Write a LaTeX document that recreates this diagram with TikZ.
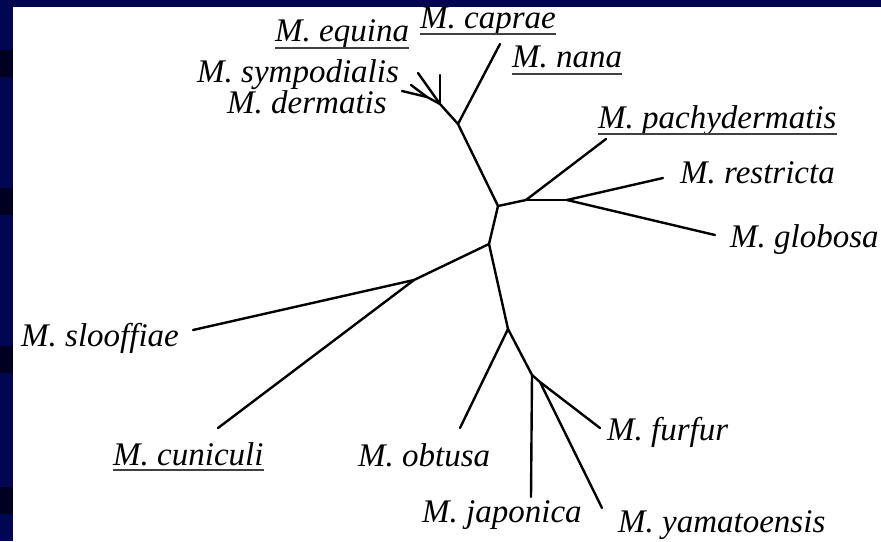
\documentclass[tikz,border=0pt]{standalone}
\usepackage{fontspec}
\setmainfont{Liberation Serif}
\definecolor{slideblue}{RGB}{0,6,82}
\definecolor{slidedark}{RGB}{0,0,32}
\begin{document}
\begin{tikzpicture}[x=1pt,y=-1pt,
  branch/.style={line width=2.4pt,line cap=round,line join=round,black},
  taxon/.style={inner sep=0pt,anchor=base west,font=\fontsize{33}{36}\selectfont\itshape},
  uline/.style={line width=1.8pt,black!75}]
\useasboundingbox (0,0) rectangle (881,541);
% background
\fill[slideblue] (0,0) rectangle (881,541);
\fill[white] (13,7) rectangle (881,541);
\foreach \y in {50,188,346,487} \fill[slidedark] (0,\y) rectangle (13,\y+27);
% tree coordinates
\coordinate (C1) at (498,206);
\coordinate (Nt) at (458,124);
\coordinate (Lcap) at (500,44);
\coordinate (N2) at (440,104);
\coordinate (La1) at (440,75);
\coordinate (La2) at (418,73);
\coordinate (N3) at (427,97);
\coordinate (La3) at (402,91);
\coordinate (La4) at (411,85);
\coordinate (N4) at (526,200);
\coordinate (Lpac) at (606,139);
\coordinate (N5) at (567,200);
\coordinate (Lres) at (663,178);
\coordinate (Lglo) at (715,235);
\coordinate (N6) at (489,244);
\coordinate (N7) at (414,280);
\coordinate (Lslo) at (193,330);
\coordinate (Lcun) at (218,428);
\coordinate (N8) at (508,329);
\coordinate (Lobt) at (460,428);
\coordinate (N9) at (532,375);
\coordinate (Ljap) at (531,497);
\coordinate (N10) at (540,382);
\coordinate (Lfur) at (600,428);
\coordinate (Lyam) at (602,508);
% branches
\draw[branch] (C1) -- (Nt);
\draw[branch] (Nt) -- (Lcap);
\draw[branch] (Nt) -- (N2);
\draw[branch] (N2) -- (La1);
\draw[branch] (N2) -- (La2);
\draw[branch] (N2) -- (N3);
\draw[branch] (N3) -- (La3);
\draw[branch] (N3) -- (La4);
\draw[branch] (C1) -- (N4);
\draw[branch] (N4) -- (Lpac);
\draw[branch] (N4) -- (N5);
\draw[branch] (N5) -- (Lres);
\draw[branch] (N5) -- (Lglo);
\draw[branch] (C1) -- (N6);
\draw[branch] (N6) -- (N7);
\draw[branch] (N7) -- (Lslo);
\draw[branch] (N7) -- (Lcun);
\draw[branch] (N6) -- (N8);
\draw[branch] (N8) -- (Lobt);
\draw[branch] (N8) -- (N9);
\draw[branch] (N9) -- (Ljap);
\draw[branch] (N9) -- (N10);
\draw[branch] (N10) -- (Lfur);
\draw[branch] (N10) -- (Lyam);
% labels
\node[taxon] (equina) at (275,41) {M. equina};
\node[taxon] (caprae) at (420,28) {M. caprae};
\node[taxon] (nana) at (512,67) {M. nana};
\node[taxon] (symp) at (197,82) {M. sympodialis};
\node[taxon] (derm) at (227,113) {M. dermatis};
\node[taxon] (pachy) at (598,128) {M. pachydermatis};
\node[taxon] (restr) at (680,183) {M. restricta};
\node[taxon] (glob) at (730,247) {M. globosa};
\node[taxon] (sloo) at (21,346) {M. slooffiae};
\node[taxon] (cuni) at (113,465) {M. cuniculi};
\node[taxon] (obtu) at (358,466) {M. obtusa};
\node[taxon] (furf) at (607,440) {M. furfur};
\node[taxon] (japo) at (422,522) {M. japonica};
\node[taxon] (yama) at (618,532) {M. yamatoensis};
% underlines
\foreach \n/\d in {equina/7,caprae/6,nana/7,pachy/6,cuni/5}
  \draw[uline] ([yshift=-\d pt]\n.base west) -- ([yshift=-\d pt]\n.base east);
\end{tikzpicture}
\end{document}
